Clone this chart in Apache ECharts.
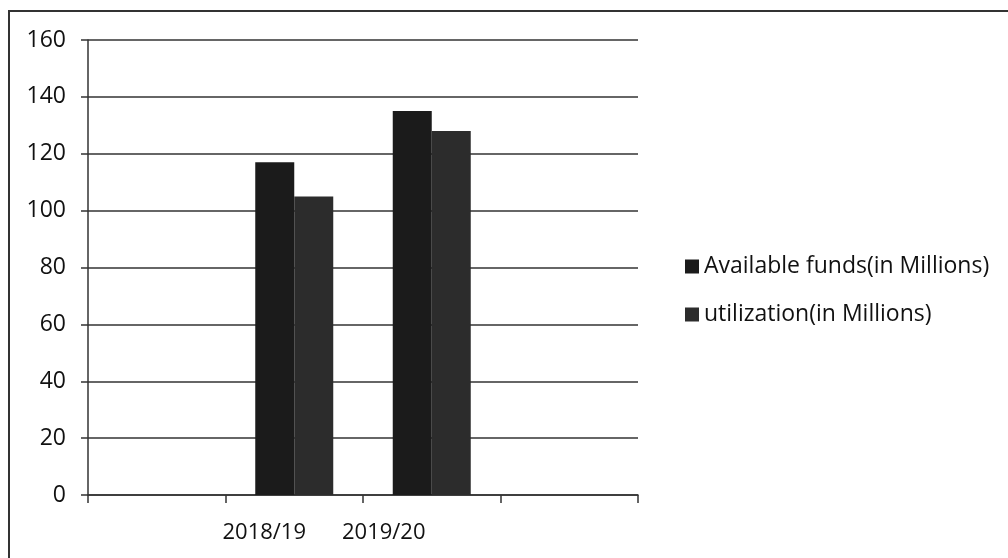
<!DOCTYPE html>
<html><head><meta charset="utf-8">
<script src="https://cdn.jsdelivr.net/npm/echarts@6/dist/echarts.min.js"></script>
<style>
html,body{margin:0;padding:0;background:#fff;overflow:hidden;}
#frame{position:absolute;left:8px;top:10px;width:1010px;height:560px;border:2px solid #333;box-sizing:border-box;}
#c{position:absolute;left:0;top:0;width:1008px;height:558px;}
</style></head>
<body>
<div id="frame"></div>
<div id="c"></div>
<script>
const categories = ['', '2018/19', '2019/20', ''];
const availableFunds = [null, 117, 135, null];
const utilization = [null, 105, 128, null];
const yTicks = [0, 20, 40, 60, 80, 100, 120, 140, 160];

const chart = echarts.init(document.getElementById('c'));
const font = '"Open Sans", "Liberation Sans", sans-serif';
chart.setOption({
  animation: false,
  backgroundColor: 'transparent',
  grid: {left: 88, right: 370, top: 40, bottom: 63},
  legend: {
    orient: 'vertical', left: 680, top: 250, itemGap: 25,
    itemWidth: 14, itemHeight: 14, icon: 'rect',
    textStyle: {fontFamily: font, fontSize: 23, color: '#111'},
    data: ['Available funds(in Millions)', 'utilization(in Millions)']
  },
  xAxis: {
    type: 'category', data: categories,
    axisLine: {lineStyle: {color: '#333', width: 1.5}},
    axisTick: {show: true, interval: 0, length: 8, lineStyle: {color: '#333', width: 1.5}},
    axisLabel: {
      interval: 0, hideOverlap: false,
      fontFamily: font, fontSize: 22, color: '#111', margin: 27,
      formatter: function (v, i) { return i === 1 ? '{a|' + v + '}' : (i === 2 ? '{b|' + v + '}' : v); },
      rich: {
        a: {fontFamily: font, fontSize: 22, color: '#111', padding: [0, 60, 0, 0]},
        b: {fontFamily: font, fontSize: 22, color: '#111', padding: [0, 96, 0, 0]}
      }
    }
  },
  yAxis: {
    type: 'value', min: yTicks[0], max: yTicks[yTicks.length - 1], interval: 20,
    axisLine: {show: true, lineStyle: {color: '#333', width: 1.5}},
    axisTick: {show: true, length: 7, lineStyle: {color: '#333', width: 1.5}},
    axisLabel: {fontFamily: font, fontSize: 23, color: '#111', margin: 22},
    splitLine: {lineStyle: {color: '#333', width: 1.5}}
  },
  series: [
    {name: 'Available funds(in Millions)', type: 'bar', data: availableFunds,
     barWidth: 39, barGap: '0%', itemStyle: {color: '#1b1b1b'}},
    {name: 'utilization(in Millions)', type: 'bar', data: utilization,
     barWidth: 39, barGap: '0%', itemStyle: {color: '#2c2c2c'}}
  ]
});
</script>
</body></html>
